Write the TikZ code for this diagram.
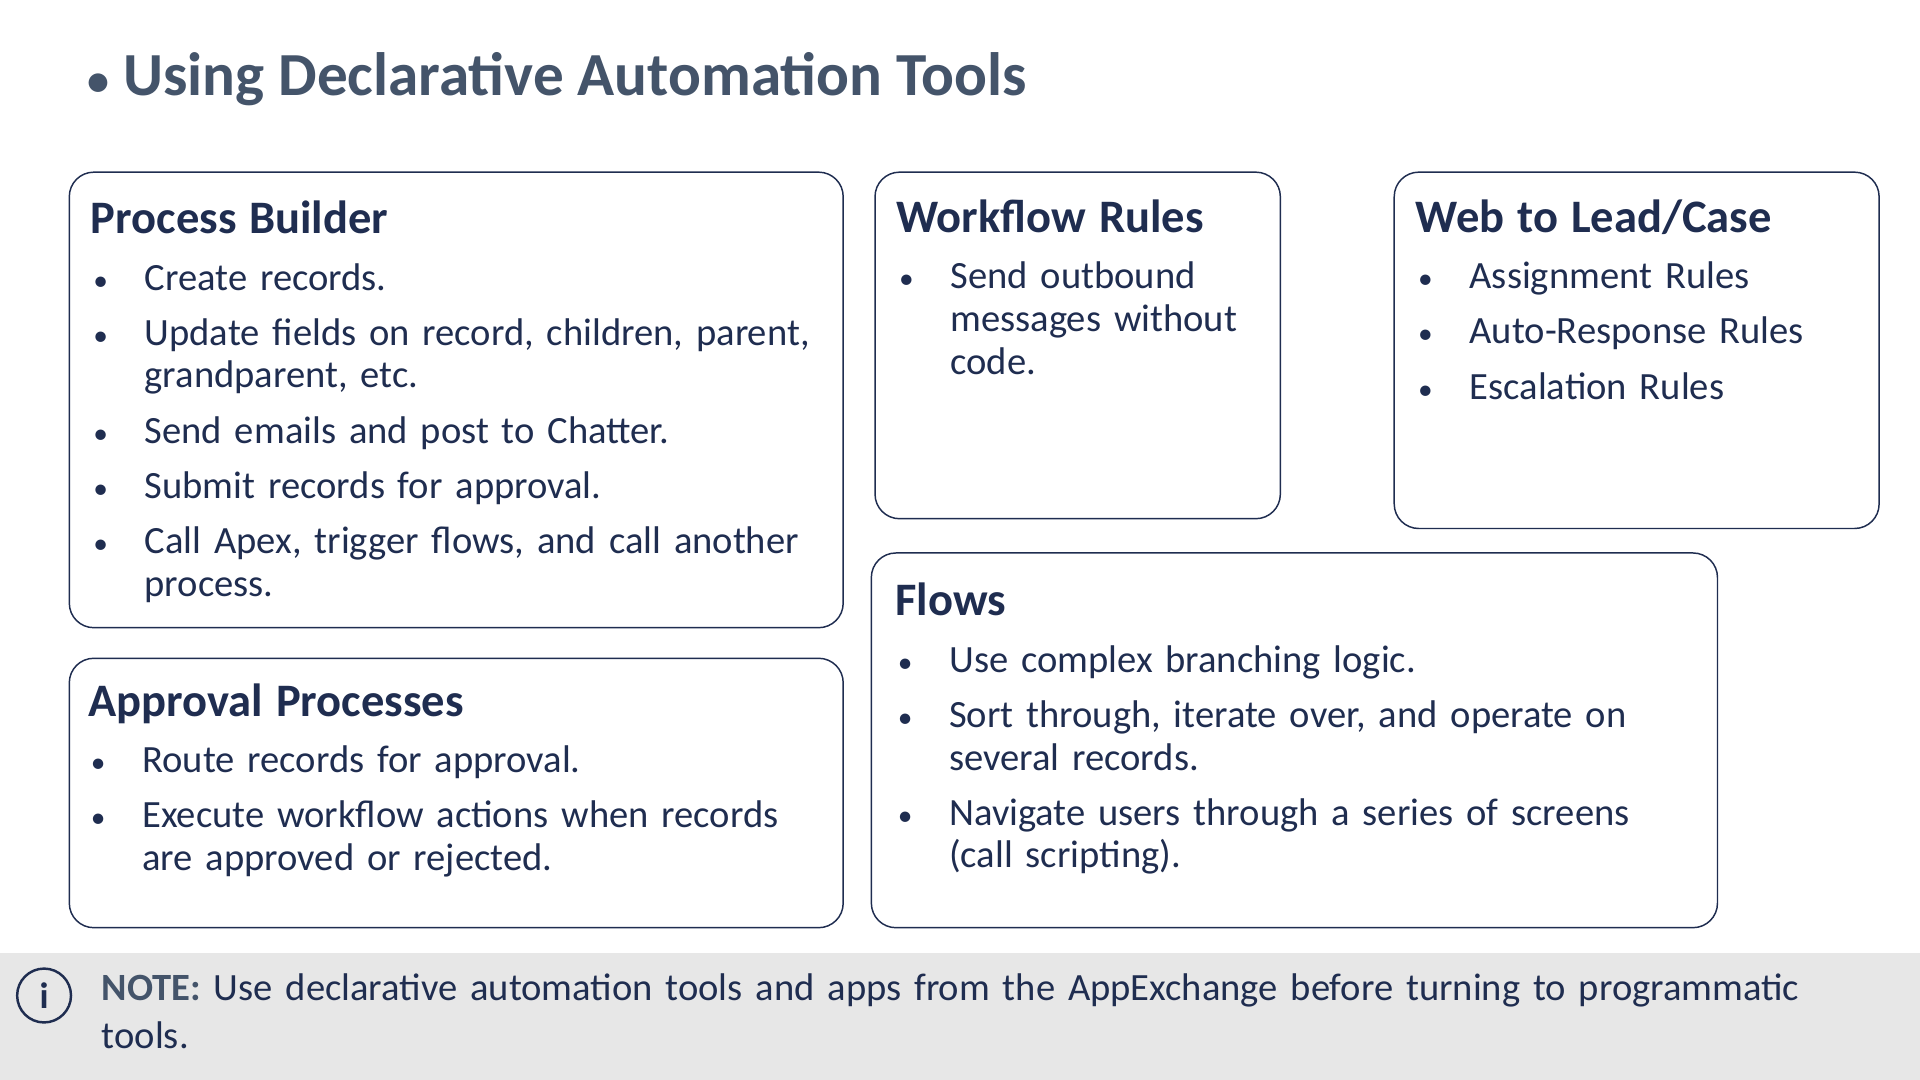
\documentclass[tikz,border=0pt]{standalone}
\usepackage{fontspec}
\setmainfont{Carlito}
\definecolor{navy}{HTML}{1F2D50}
\definecolor{slate}{HTML}{44546A}
\definecolor{noteband}{HTML}{E7E7E7}
\newcommand{\itm}[1]{\par\hyphenpenalty=10000\hangindent=44pt\hangafter=1\noindent\makebox[44pt][l]{\hspace{2pt}{\fontsize{24}{24}\selectfont\textbullet}}#1\par\vspace{10pt}}
\newcommand{\hdr}[1]{{\fontsize{38}{44}\selectfont\bfseries #1\par}\vspace{11pt}}

\begin{document}
\begin{tikzpicture}[x=1pt ,y=-1pt ,
box/.style ={ draw=navy , line width=1.2pt , rounded corners=20pt , anchor=north west ,inner sep=0pt},
body/.style ={ anchor=north west , text=navy , align=left , inner sep=0pt ,
font=\fontsize{31.5}{35}\selectfont }]
  \fill[white] (0,0) rectangle (1568,882);
  \fill[noteband] (0,778) rectangle (1568,882);
  \node[anchor=west, text=slate, font=\fontsize{50}{58}\selectfont\bfseries] (title) at (68,65) {{\fontsize{36}{36}\selectfont\textbullet}\ Using Declarative Automation Tools};
  % boxes
  \node[box, minimum width=632pt, minimum height=372pt] (pb) at (56,140) {};
  \node[box, minimum width=331pt, minimum height=283pt] (wf) at (714,140) {};
  \node[box, minimum width=396pt, minimum height=291pt] (wl) at (1138,140) {};
  \node[box, minimum width=632pt, minimum height=220pt] (ap) at (56,537) {};
  \node[box, minimum width=691pt, minimum height=306pt] (fl) at (711,451) {};
  % texts
  \node[body, text width=605pt] (pbtext) at (74,164) {\hdr{Process Builder}
    \itm{Create records.}
    \itm{Update fields on record, children, parent, grandparent, etc.}
    \itm{Send emails and post to Chatter.}
    \itm{Submit records for approval.}
    \itm{Call Apex, trigger flows, and call another process.}};
  \node[body, text width=305pt] (wftext) at (732,163) {\hdr{Workflow Rules}
    \itm{Send outbound messages without code.}};
  \node[body, text width=370pt] (wltext) at (1156,163) {\hdr{Web to Lead/Case}
    \itm{Assignment Rules}
    \itm{Auto-Response Rules}
    \itm{Escalation Rules}};
  \node[body, text width=605pt] (aptext) at (72,558) {\hdr{Approval Processes}
    \itm{Route records for approval.}
    \itm{Execute workflow actions when records are approved or rejected.}};
  \node[body, text width=640pt] (fltext) at (731,476) {\hdr{Flows}
    \itm{Use complex branching logic.}
    \itm{Sort through, iterate over, and operate on several records.}
    \itm{Navigate users through a series of screens (call scripting).}};
  % note
  \node[circle, draw=navy, line width=2pt, minimum size=44pt, text=navy, inner sep=0pt,
    font=\fontsize{30}{30}\selectfont\bfseries] (info) at (36,813) {i};
  \node[body, text width=1440pt, font=\fontsize{31.5}{39}\selectfont] (note) at (83,795) {{\color{slate}\bfseries NOTE:} Use declarative automation tools and apps from the AppExchange before turning to programmatic tools.};
\end{tikzpicture}
\end{document}
